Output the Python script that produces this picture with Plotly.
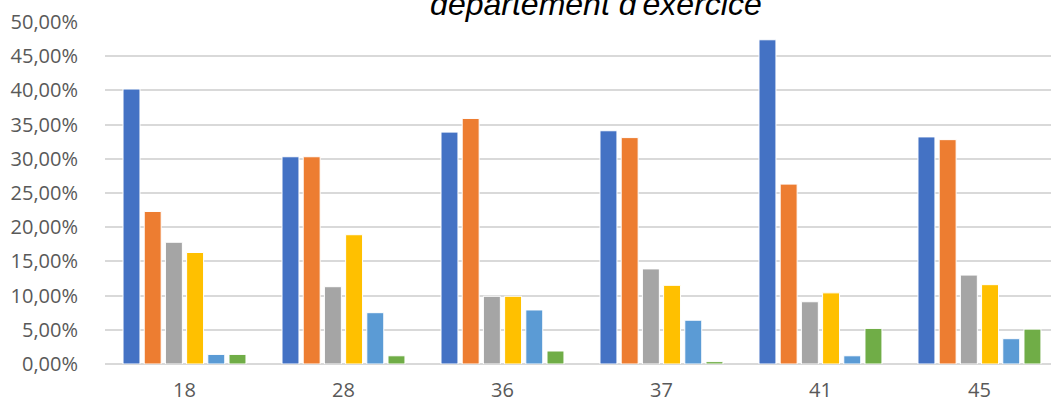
import plotly.graph_objects as go

# departements
categories = ["18", "28", "36", "37", "41", "45"]

# share per series, one value per departement
serie_1 = [0.402, 0.303, 0.339, 0.341, 0.474, 0.332]
serie_2 = [0.223, 0.303, 0.359, 0.331, 0.263, 0.328]
serie_3 = [0.178, 0.113, 0.099, 0.139, 0.091, 0.130]
serie_4 = [0.163, 0.189, 0.099, 0.115, 0.104, 0.116]
serie_5 = [0.014, 0.075, 0.079, 0.064, 0.012, 0.037]
serie_6 = [0.014, 0.012, 0.019, 0.0035, 0.052, 0.051]

series_names = ["Série 1", "Série 2", "Série 3", "Série 4", "Série 5", "Série 6"]
colors = ["#4472C4", "#ED7D31", "#A5A5A5", "#FFC000", "#5B9BD5", "#70AD47"]

fig = go.Figure()
for name, vals, col in zip(series_names,
                           [serie_1, serie_2, serie_3, serie_4, serie_5, serie_6],
                           colors):
    fig.add_trace(go.Bar(x=categories, y=vals, name=name,
                         marker=dict(color=col, line=dict(color="white", width=1))))

fig.update_layout(
    width=1051, height=405,
    barmode="group", bargap=0.2, bargroupgap=0.2,
    separators=", ",
    showlegend=False,
    plot_bgcolor="white", paper_bgcolor="white",
    margin=dict(l=105, r=0, t=22, b=41),
    font=dict(family="Open Sans", size=20, color="#595959"),
    # title is cropped at the top in the source image, only its last line shows
    title=dict(text="<i>département d'exercice</i>",
               font=dict(family="Liberation Sans", size=32, color="#000000"),
               x=0.567, xanchor="center", xref="container",
               yref="container", y=0.99, yanchor="middle"),
)

fig.update_yaxes(range=[0, 0.5], dtick=0.05, tickformat=".2%",
                 showgrid=True, gridcolor="#D9D9D9", gridwidth=1.5,
                 zeroline=True, zerolinecolor="#D9D9D9", zerolinewidth=1.5,
                 showline=False, ticks="outside", ticklen=22, tickcolor="rgba(0,0,0,0)")
fig.update_xaxes(range=[-0.5, 5.45], showgrid=False, showline=False,
                 ticks="outside", ticklen=8, tickcolor="rgba(0,0,0,0)")

# page has a default 8px body margin, drop it so the figure sits at 0,0
fig.write_html("out.html", config={"displayModeBar": False},
               post_script="document.body.style.margin='0';")
